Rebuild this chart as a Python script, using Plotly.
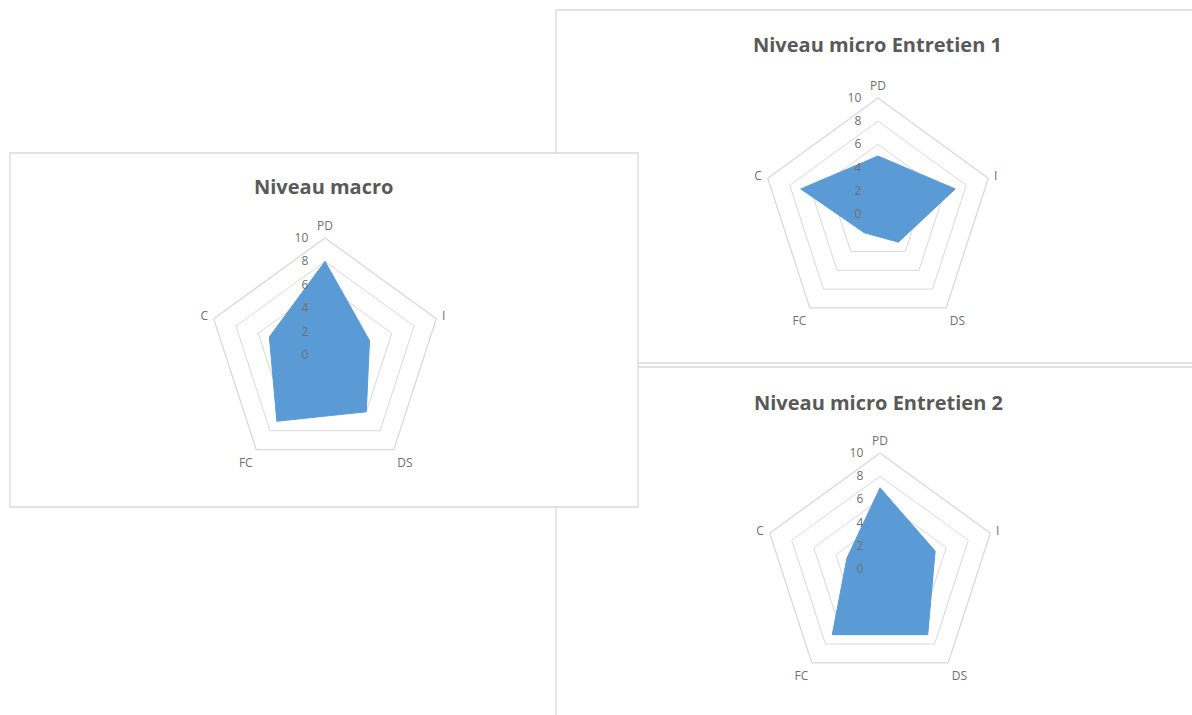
import plotly.graph_objects as go

categories = ["PD", "I", "DS", "FC", "C"]
macro_values = [8, 4, 6, 7, 5]
micro1_values = [5, 7, 3, 2, 7]
micro2_values = [7, 5, 7, 7, 3]
titles = ["Niveau macro", "Niveau micro Entretien 1", "Niveau micro Entretien 2"]
radial_ticks = [0, 2, 4, 6, 8, 10]

W, H = 1192, 715
FILL = "#5B9BD5"
GRID = "#d9d9d9"
TXT = "#595959"
AXTXT = "#6f6f6f"
FONT = "Open Sans"

def px_x(v):
    return v / W

def px_y(v):
    return 1 - v / H

charts = [
    dict(name="polar", cx=325, cy=355, r=117, values=macro_values, title=titles[0], ty=187, tx=323),
    dict(name="polar2", cx=878, cy=214, r=116, values=micro1_values, title=titles[1], ty=45, tx=877),
    dict(name="polar3", cx=880, cy=569, r=116, values=micro2_values, title=titles[2], ty=402, tx=878),
]

fig = go.Figure()
layout = dict(
    width=W, height=H, margin=dict(l=0, r=0, t=0, b=0),
    paper_bgcolor="white", plot_bgcolor="white", showlegend=False,
    annotations=[], shapes=[],
)

for c in charts:
    fig.add_trace(go.Scatterpolar(
        r=c["values"] + [c["values"][0]], theta=categories + [categories[0]],
        fill="toself", fillcolor=FILL, mode="lines",
        line=dict(color=FILL, width=1), subplot=c["name"], hoverinfo="skip",
    ))
    layout[c["name"]] = dict(
        domain=dict(x=[px_x(c["cx"] - c["r"]), px_x(c["cx"] + c["r"])],
                    y=[px_y(c["cy"] + c["r"]), px_y(c["cy"] - c["r"])]),
        gridshape="linear",
        bgcolor="rgba(0,0,0,0)",
        radialaxis=dict(range=[0, 10], tickvals=radial_ticks, ticktext=[str(t) for t in radial_ticks],
                        angle=90, tickangle=90, side="counterclockwise",
                        showline=False, ticks="outside", ticklen=12, tickcolor="rgba(0,0,0,0)",
                        gridcolor=GRID, gridwidth=1.3,
                        tickfont=dict(family=FONT, size=12, color=AXTXT), layer="above traces"),
        angularaxis=dict(direction="clockwise", rotation=90, categoryorder="array",
                         categoryarray=categories, showgrid=False, showline=True,
                         linecolor=GRID, linewidth=1.3, ticks="outside", ticklen=3,
                         tickcolor="rgba(0,0,0,0)",
                         tickfont=dict(family=FONT, size=12, color=AXTXT)),
    )
    layout["annotations"].append(dict(
        text="<b>" + c["title"] + "</b>", x=px_x(c["tx"]), y=px_y(c["ty"]),
        xref="paper", yref="paper", showarrow=False, xanchor="center", yanchor="middle",
        font=dict(family=FONT, size=20, color=TXT),
    ))

box_line = dict(color="#d9d9d9", width=1.3)
layout["shapes"] = [
    dict(type="rect", xref="paper", yref="paper", layer="below",
         x0=px_x(556), x1=px_x(1210), y0=px_y(363), y1=px_y(10), line=box_line, fillcolor="white"),
    dict(type="rect", xref="paper", yref="paper", layer="below",
         x0=px_x(556), x1=px_x(1210), y0=px_y(730), y1=px_y(367), line=box_line, fillcolor="white"),
    dict(type="rect", xref="paper", yref="paper", layer="below",
         x0=px_x(10), x1=px_x(638), y0=px_y(507), y1=px_y(153), line=box_line, fillcolor="white"),
]

fig.update_layout(**layout)
fig.write_html("out.html", config={"displayModeBar": False},
               post_script="document.body.style.margin='0';document.body.style.overflow='hidden';")
